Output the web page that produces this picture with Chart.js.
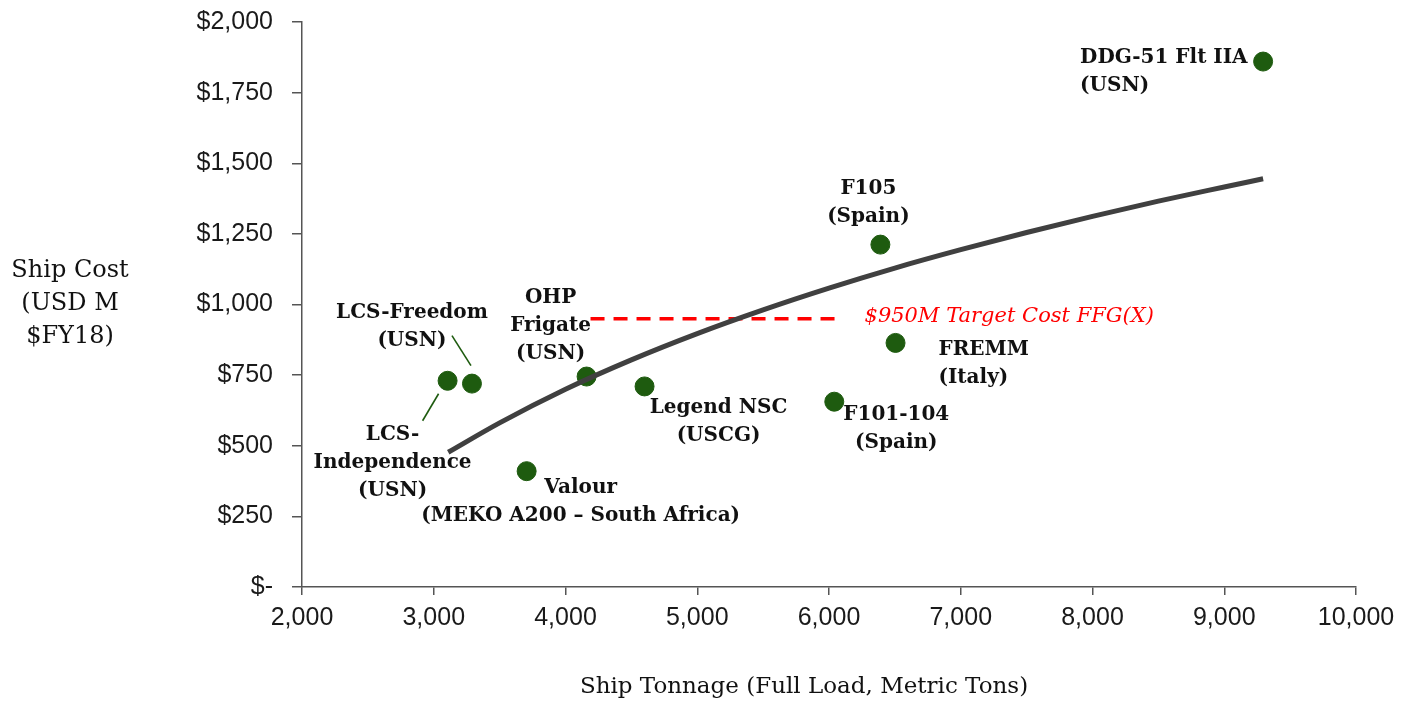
<!DOCTYPE html>
<html>
<head>
<meta charset="utf-8">
<script src="https://cdn.jsdelivr.net/npm/chart.js@4.4.0/dist/chart.umd.min.js"></script>
<style>
    html, body { margin: 0; padding: 0; background: #fff; }
    #wrap { width: 1413px; height: 702px; position: relative; }
</style>
</head>
<body>
<div id="wrap"><canvas id="cost-chart"></canvas></div>
<script>
// Ship cost vs. full load tonnage

const shipNames = [
    ['LCS-', 'Independence', '(USN)'],
    ['LCS-Freedom', '(USN)'],
    ['OHP', 'Frigate', '(USN)'],
    ['Legend NSC', '(USCG)'],
    ['Valour', '(MEKO A200 \u2013 South Africa)'],
    ['F105', '(Spain)'],
    ['FREMM', '(Italy)'],
    ['F101-104', '(Spain)'],
    ['DDG-51 Flt IIA', '(USN)']
];
const shipTonnage = [3105, 3290, 4160, 4600, 3705, 6390, 6505, 6040, 9295];
const shipCost = [730, 720, 745, 710, 410, 1212, 864, 656, 1860];

const trendTonnage = [3110, 3500, 4000, 4500, 5000, 5500, 6000, 6500, 7000, 7500, 8000, 8500, 9000, 9295];
const trendCost = [477, 581, 700, 804, 897, 981, 1058, 1129, 1194, 1255, 1312, 1366, 1416, 1445];

const targetCost = 950;
const targetTonnage = [4190, 6080];
const targetLabel = '$950M Target Cost FFG(X)';

const xTicks = [2000, 3000, 4000, 5000, 6000, 7000, 8000, 9000, 10000];
const yTicks = [0, 250, 500, 750, 1000, 1250, 1500, 1750, 2000];

const yTitle = ['Ship Cost', '(USD M', '$FY18)'];
const xTitle = 'Ship Tonnage (Full Load, Metric Tons)';

// label placement (pixels, relative to each dot)
const labelPlacement = [
    { align: 'center', dx: -55, dy: 54 },
    { align: 'center', dx: -60, dy: -71 },
    { align: 'center', dx: -36, dy: -79 },
    { align: 'center', dx: 74, dy: 21 },
    { align: 'center', dx: 54, dy: 17 },
    { align: 'center', dx: -12, dy: -56 },
    { align: 'left', dx: 43, dy: 7 },
    { align: 'center', dx: 62, dy: 13 },
    { align: 'left', dx: -183, dy: -4 }
];
const leaderLines = {
    0: [-9, 13, -25, 40],
    1: [-20, -48, -1, -18]
};

const GREEN = '#1e5b0f';
const LABEL_FONT = 'bold 20px "DejaVu Serif"';
const LINE_GAP = 28;

const annotations = {
    id: 'annotations',
    afterDatasetsDraw(chart) {
        const ctx = chart.ctx;
        const xs = chart.scales.x;
        const ys = chart.scales.y;
        ctx.save();

        // leader lines
        ctx.strokeStyle = GREEN;
        ctx.lineWidth = 1.6;
        Object.keys(leaderLines).forEach(i => {
            const px = xs.getPixelForValue(shipTonnage[i]);
            const py = ys.getPixelForValue(shipCost[i]);
            const l = leaderLines[i];
            ctx.beginPath();
            ctx.moveTo(px + l[0], py + l[1]);
            ctx.lineTo(px + l[2], py + l[3]);
            ctx.stroke();
        });

        // ship labels
        ctx.font = LABEL_FONT;
        ctx.fillStyle = '#111';
        ctx.textBaseline = 'middle';
        shipNames.forEach((lines, i) => {
            const p = labelPlacement[i];
            const px = xs.getPixelForValue(shipTonnage[i]);
            const py = ys.getPixelForValue(shipCost[i]);
            ctx.textAlign = p.align;
            lines.forEach((t, j) => {
                ctx.fillText(t, px + p.dx, py + p.dy + j * LINE_GAP);
            });
        });

        // target label
        ctx.font = 'italic 21px "DejaVu Serif"';
        ctx.fillStyle = '#ff0000';
        ctx.textAlign = 'left';
        ctx.fillText(targetLabel,
            xs.getPixelForValue(targetTonnage[1]) + 25,
            ys.getPixelForValue(targetCost) - 2);

        // axis titles
        ctx.fillStyle = '#111';
        ctx.font = '24px "DejaVu Serif"';
        ctx.textAlign = 'center';
        yTitle.forEach((t, j) => ctx.fillText(t, 70, 271 + j * 33));
        ctx.font = '23px "DejaVu Serif"';
        ctx.fillText(xTitle, (xs.left + xs.right) / 2 - 25, 687);

        ctx.restore();
    }
};

const tickFont = { family: '"Liberation Sans", Arial', size: 25 };

new Chart(document.getElementById('cost-chart'), {
    type: 'scatter',
    data: {
        datasets: [
            {
                type: 'line',
                data: trendTonnage.map((x, i) => ({ x, y: trendCost[i] })),
                borderColor: '#404040',
                borderWidth: 5,
                pointRadius: 0,
                tension: 0.4,
                cubicInterpolationMode: 'monotone',
                fill: false
            },
            {
                type: 'line',
                data: targetTonnage.map(x => ({ x, y: targetCost })),
                borderColor: '#ff0000',
                borderWidth: 3.5,
                borderDash: [14, 9],
                pointRadius: 0,
                fill: false
            },
            {
                data: shipTonnage.map((x, i) => ({ x, y: shipCost[i] })),
                backgroundColor: GREEN,
                borderColor: GREEN,
                pointRadius: 9.5,
                pointHoverRadius: 9.5
            }
        ]
    },
    options: {
        responsive: true,
        maintainAspectRatio: false,
        animation: false,
        layout: { padding: { left: 0, right: 57, top: 22, bottom: 0 } },
        plugins: {
            legend: { display: false },
            tooltip: { enabled: false }
        },
        scales: {
            x: {
                type: 'linear',
                min: xTicks[0],
                max: xTicks[xTicks.length - 1],
                afterBuildTicks: s => { s.ticks = xTicks.map(v => ({ value: v })); },
                afterFit: s => {
                    s.height = 115;
                    s.paddingLeft = 0;
                    s.paddingRight = 0;
                },
                ticks: {
                    font: tickFont,
                    color: '#1a1a1a',
                    padding: 8,
                    maxRotation: 0,
                    callback: v => v.toLocaleString('en-US')
                },
                grid: { drawOnChartArea: false, tickLength: 8, color: '#555', lineWidth: 1.5 },
                border: { color: '#555', width: 1.5 }
            },
            y: {
                min: yTicks[0],
                max: yTicks[yTicks.length - 1],
                afterBuildTicks: s => { s.ticks = yTicks.map(v => ({ value: v })); },
                afterFit: s => {
                    s.width = 302;
                    s.paddingTop = 0;
                    s.paddingBottom = 0;
                },
                ticks: {
                    font: tickFont,
                    color: '#1a1a1a',
                    padding: 19,
                    callback: v => v === 0 ? '$-' : '$' + v.toLocaleString('en-US')
                },
                grid: { drawOnChartArea: false, tickLength: 10, color: '#555', lineWidth: 1.5 },
                border: { color: '#555', width: 1.5 }
            }
        }
    },
    plugins: [annotations]
});
</script>
</body>
</html>
